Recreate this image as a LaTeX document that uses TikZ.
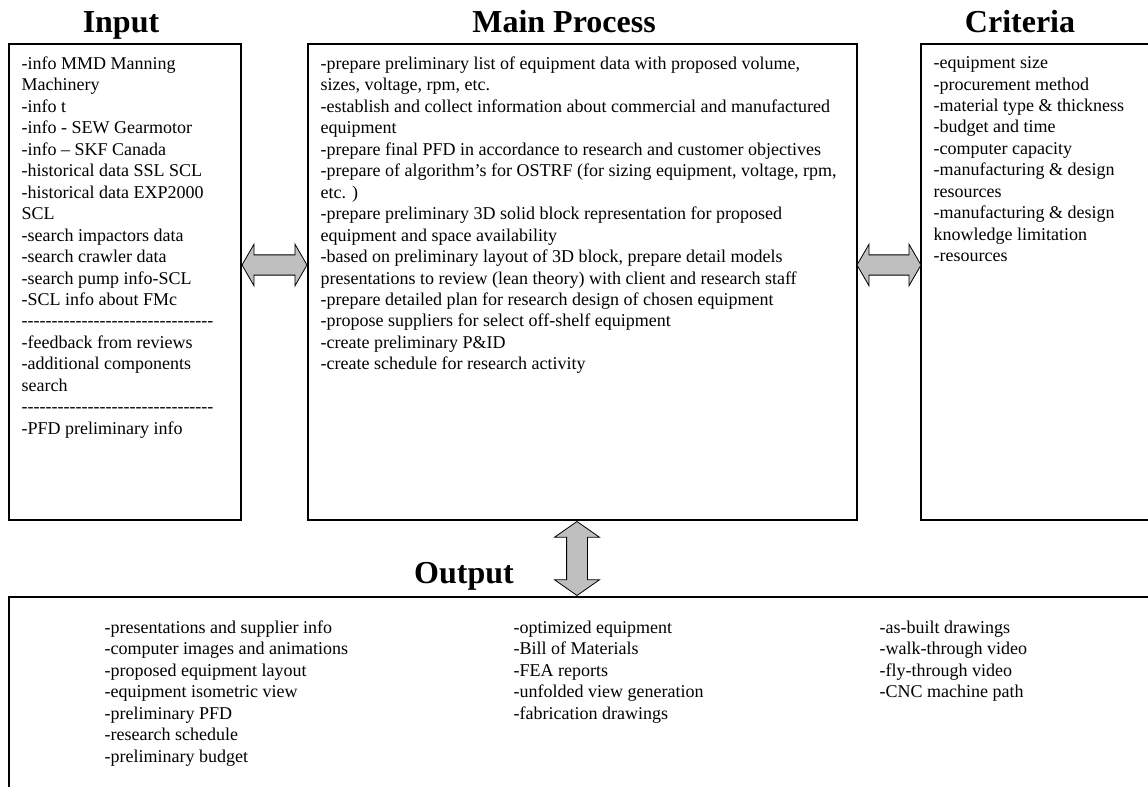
\documentclass[tikz,border=0pt]{standalone}
\usepackage{fontspec}
\setmainfont{Liberation Serif}
\usetikzlibrary{positioning,calc,shapes.arrows}

\newcommand\sepline{-{}-{}-{}-{}-{}-{}-{}-{}-{}-{}-{}-{}-{}-{}-{}-{}-{}-{}-{}-{}-{}-{}-{}-{}-{}-{}-{}-{}-{}-{}-{}-{}}

\begin{document}
\begin{tikzpicture}[x=0.75pt,y=-0.75pt]
	\tikzstyle{box}=[draw,line width=0.9pt,inner sep=0pt,minimum height=357pt]
	\tikzstyle{title}=[font=\fontsize{24}{28}\selectfont\bfseries,anchor=base,inner sep=0pt]
	\tikzstyle{txt}=[font=\fontsize{13.5}{16.1}\selectfont,align=left,anchor=north west,inner sep=0pt]
	\tikzstyle{fat}=[double arrow,draw,fill=black!25,line width=0.6pt,inner xsep=0pt,minimum width=0pt]
	\useasboundingbox (0,0) rectangle (1148,787);
	\clip (0,0) rectangle (1148,787);
		% the four boxes
		\node[box,minimum width=174pt] (inbox) at (125,282) {};
		\node[box,minimum width=411.75pt] (mainbox) at (582.5,282) {};
		\node[box,minimum width=186.75pt] (critbox) at (1045.5,282) {};
		\node[box,minimum width=870.75pt,minimum height=167.25pt] (outbox) at (589.5,708.5) {};
		% titles
		\node[title] (intitle) at (121,33) {Input};
		\node[title] (maintitle) at (564,33) {Main Process};
		\node[title] (crittitle) at (1020,33) {Criteria};
		\node[title] (outtitle) at (464,583) {Output};
		% box contents
		\node[txt] (intext) at ($(inbox.north west)+(13,13)$) {-info MMD Manning\\Machinery\\-info t\\-info - SEW Gearmotor\\-info – SKF Canada\\-historical data SSL SCL\\-historical data EXP2000\\SCL\\-search impactors data\\-search crawler data\\-search pump info-SCL\\-SCL info about FMc\\\sepline\\-feedback from reviews\\-additional components\\search\\\sepline\\-PFD preliminary info};
		\node[txt] (maintext) at ($(mainbox.north west)+(13,13)$) {-prepare preliminary list of equipment data with proposed volume,\\sizes, voltage, rpm, etc.\\-establish and collect information about commercial and manufactured\\equipment\\-prepare final PFD in accordance to research and customer objectives\\-prepare of algorithm’s for OSTRF (for sizing equipment, voltage, rpm,\\etc. )\\-prepare preliminary 3D solid block representation for proposed\\equipment and space availability\\-based on preliminary layout of 3D block, prepare detail models\\presentations to review (lean theory) with client and research staff\\-prepare detailed plan for research design of chosen equipment\\-propose suppliers for select off-shelf equipment\\-create preliminary P\&ID\\-create schedule for research activity};
		\node[txt] (crittext) at ($(critbox.north west)+(13,13)$) {-equipment size\\-procurement method\\-material type \& thickness\\-budget and time\\-computer capacity\\-manufacturing \& design\\resources\\-manufacturing \& design\\knowledge limitation\\-resources};
		\node[txt] (outone) at ($(outbox.north west)+(96,24)$) {-presentations and supplier info\\-computer images and animations\\-proposed equipment layout\\-equipment isometric view\\-preliminary PFD\\-research schedule\\-preliminary budget};
		\node[txt] (outtwo) at ($(outbox.north west)+(505,24)$) {-optimized equipment\\-Bill of Materials\\-FEA reports\\-unfolded view generation\\-fabrication drawings};
		\node[txt] (outthree) at ($(outbox.north west)+(871,24)$) {-as-built drawings\\-walk-through video\\-fly-through video\\-CNC machine path};
		% fat double arrows between the boxes
		\node[fat,minimum height=48.75pt,inner ysep=7.3pt,double arrow head extend=8pt,double arrow tip angle=120] (leftarrow) at ($(inbox.east)!0.5!(mainbox.west)+(0,-17)$) {};
		\node[fat,minimum height=48pt,inner ysep=7.3pt,double arrow head extend=8pt,double arrow tip angle=120] (rightarrow) at ($(mainbox.east)!0.5!(critbox.west)+(0,-17)$) {};
		\node[fat,rotate=90,minimum height=55.5pt,inner ysep=7.5pt,double arrow head extend=9pt,double arrow tip angle=110] (downarrow) at ($(mainbox.south)!0.5!(mainbox.south |- outbox.north)+(-5.5,0)$) {};
\end{tikzpicture}
\end{document}
